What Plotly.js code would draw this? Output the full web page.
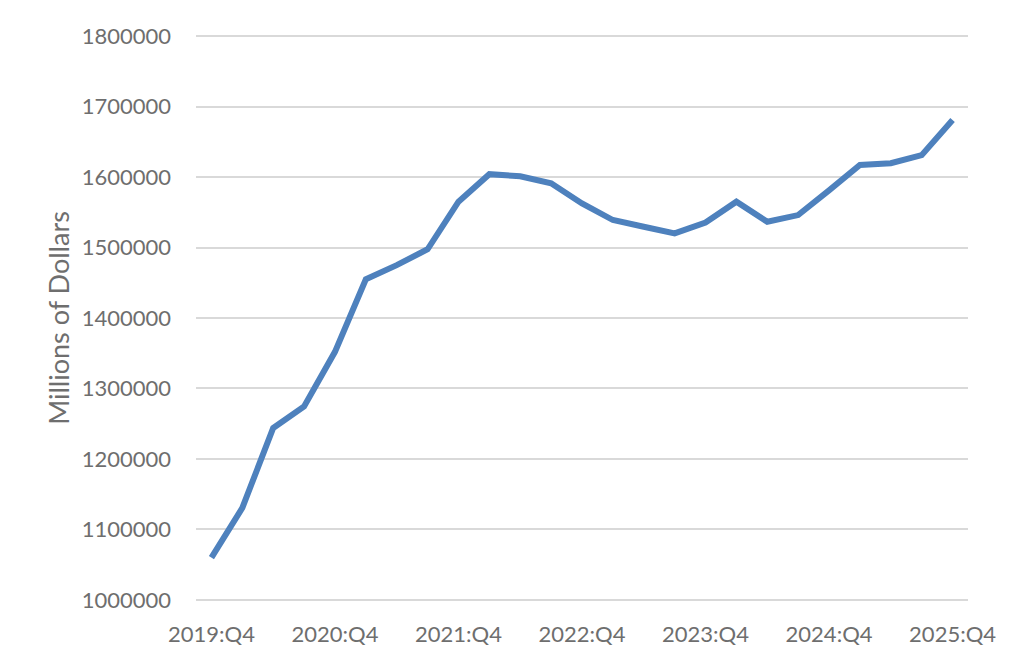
<!DOCTYPE html>
<html>
<head>
<meta charset="utf-8">
<script src="https://cdn.plot.ly/plotly-3.0.1.min.js"></script>
<style>html,body{margin:0;padding:0;background:#fff;}#chart{width:1024px;height:658px;}</style>
</head>
<body>
<div id="chart"></div>
<script>
var quarters = ["2019:Q4","2020:Q1","2020:Q2","2020:Q3","2020:Q4","2021:Q1","2021:Q2","2021:Q3","2021:Q4","2022:Q1","2022:Q2","2022:Q3","2022:Q4","2023:Q1","2023:Q2","2023:Q3","2023:Q4","2024:Q1","2024:Q2","2024:Q3","2024:Q4","2025:Q1","2025:Q2","2025:Q3","2025:Q4"];
var values = [1060000,1130600,1244000,1274500,1352000,1455000,1475000,1497500,1565000,1604000,1601000,1591000,1562500,1539000,1529500,1520000,1535500,1565000,1536500,1546000,1581000,1617000,1619500,1631000,1681000];
var tickLabels = ["2019:Q4","2020:Q4","2021:Q4","2022:Q4","2023:Q4","2024:Q4","2025:Q4"];
var yTicks = [1000000,1100000,1200000,1300000,1400000,1500000,1600000,1700000,1800000];

var trace = {
  x: quarters, y: values, type: "scatter", mode: "lines",
  line: {color: "#4E81BD", width: 6, shape: "linear"},
  hoverinfo: "x+y"
};
var font = {family: "Lato, 'Open Sans', sans-serif", size: 22, color: "#6E6E6E"};
var layout = {
  width: 1024, height: 658,
  margin: {l: 196, r: 56, t: 33, b: 55},
  paper_bgcolor: "#fff", plot_bgcolor: "#fff",
  showlegend: false,
  font: font,
  xaxis: {
    type: "category", range: [-0.5, quarters.length - 0.5],
    tickmode: "array", tickvals: tickLabels, ticktext: tickLabels,
    showgrid: false, zeroline: false, showline: false, ticks: "",
    tickfont: font, ticklabelstandoff: 16
  },
  yaxis: {
    range: [995700, 1804300], tickmode: "array", tickvals: yTicks,
    ticktext: yTicks.map(String),
    showgrid: true, gridcolor: "#D9D9D9", gridwidth: 2,
    zeroline: false, showline: false, ticks: "",
    tickfont: font, ticklabelstandoff: 24,
    title: {text: "Millions of Dollars", font: {family: "Lato, 'Open Sans', sans-serif", size: 27, color: "#6E6E6E"}, standoff: 4}
  }
};
Plotly.newPlot("chart", [trace], layout, {displayModeBar: false, staticPlot: true});
</script>
</body>
</html>
